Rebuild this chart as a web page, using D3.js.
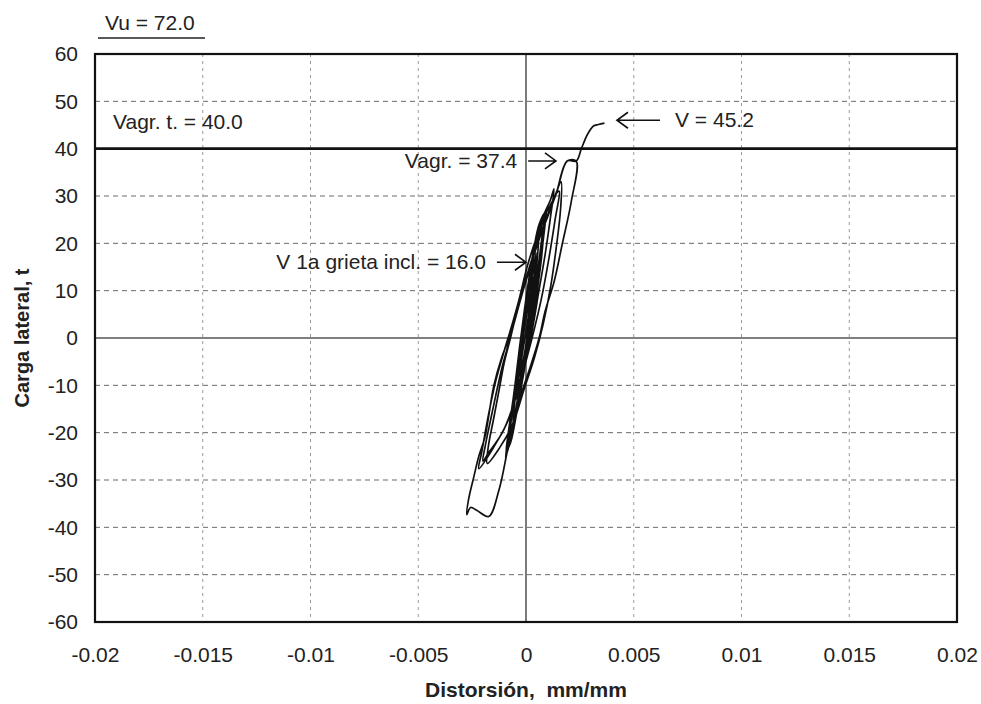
<!DOCTYPE html>
<html>
<head>
<meta charset="utf-8">
<script src="https://cdn.jsdelivr.net/npm/d3@7"></script>
<style>
  body { margin: 0; background: #fff; }
  svg { font-family: "Liberation Sans", Arial, sans-serif; }
</style>
</head>
<body>
<div id="chart"></div>
<script>
// Curva histerética: [distorsión (mm/mm), carga lateral (t)]
const histeresis = [
  [0, 0],
  // ciclos pequeños
  [0.00014, 5], [0.00023, 8], [0.00019, 4], [0.00005, 0], [-0.00014, -5], [-0.00028, -8],
  [-0.00019, -4], [-0.00005, 0], [0.00009, 4],
  [0.00028, 10], [0.00037, 13], [0.00028, 8], [0.00014, 2], [-0.00005, -4], [-0.00033, -10],
  [-0.00047, -13], [-0.00033, -8], [-0.00019, -2], [0, 4], [0.00019, 9],
  [0.00033, 14], [0.00047, 18], [0.00037, 12], [0.00023, 5], [0, -2], [-0.00028, -10],
  [-0.00061, -18], [-0.00051, -13], [-0.00033, -6], [-0.00014, 0], [0.00005, 7], [0.00023, 13],
  [0.00042, 19], [0.00061, 23], [0.00051, 16], [0.00033, 8], [0.00009, 0], [-0.00019, -8],
  [-0.00051, -16], [-0.00075, -21], [-0.00065, -16], [-0.00042, -9], [-0.00023, -2], [0, 6],
  [0.00019, 13], [0.00037, 19],
  [0.00061, 23], [0.00084, 26], [0.00065, 18], [0.00042, 10], [0.00019, 2], [-0.00009, -6],
  [-0.00042, -14], [-0.0007, -20], [-0.00089, -24], [-0.00075, -19], [-0.00051, -11], [-0.00028, -3],
  [-0.00005, 5], [0.00014, 12], [0.00037, 19], [0.00061, 24],
  [0.00089, 26.5], [0.0007, 18], [0.00047, 10], [0.00023, 2], [-0.00005, -6], [-0.00037, -14],
  [-0.00065, -20], [-0.00089, -24.5], [-0.00079, -20], [-0.00056, -12], [-0.00033, -4], [-0.00009, 4],
  [0.00009, 11], [0.00033, 18], [0.00065, 24], [0.00089, 26],
  [0.00094, 27], [0.00075, 19], [0.0005, 11], [0.00026, 3], [-0.00002, -5], [-0.00035, -13],
  [-0.00063, -19], [-0.00093, -25], [-0.00082, -21], [-0.0006, -13], [-0.00037, -5], [-0.00012, 3],
  [0.00007, 10], [0.0003, 17], [0.00062, 23], [0.00094, 27],
  [0.0009, 26], [0.00072, 17], [0.00049, 9], [0.00021, 1], [-0.0001, -7], [-0.0004, -15],
  [-0.00068, -21], [-0.00092, -24], [-0.00085, -21], [-0.00063, -14], [-0.0004, -7], [-0.00016, 1],
  [0.00004, 8], [0.00026, 15], [0.00058, 22], [0.0009, 26],
  [0.00097, 27.5], [0.00078, 20], [0.00054, 12], [0.0003, 4], [0.00001, -4], [-0.00031, -12],
  [-0.0006, -18.5], [-0.00095, -25.5], [-0.00086, -22], [-0.00066, -15], [-0.00044, -8], [-0.0002, 0],
  [0.00002, 7], [0.00022, 14], [0.00055, 21], [0.00092, 26.5],
  [0.00086, 25], [0.00068, 16], [0.00045, 8], [0.00017, 0], [-0.00013, -8], [-0.00044, -16],
  [-0.00071, -22], [-0.00088, -23.5], [-0.00078, -19], [-0.00054, -11], [-0.0003, -2], [-0.00007, 6],
  [0.00012, 12], [0.00036, 18], [0.00066, 24], [0.00092, 27],
  // ciclos mayores (ramas de la izquierda)
  [0.00112, 29], [0.0013, 31.5], [0.00115, 26], [0.0009, 18], [0.0006, 10], [0.0003, 2],
  [-0.0001, -6], [-0.0005, -13], [-0.0011, -20], [-0.0017, -24], [-0.002, -26],
  [-0.0019, -23], [-0.00163, -17], [-0.00135, -11], [-0.0011, -6], [-0.0008, -1], [-0.0005, 4],
  [-0.0002, 9], [0.0002, 15], [0.0006, 21], [0.001, 26],
  [0.0013, 29.5], [0.00163, 33], [0.0016, 27], [0.0014, 19], [0.00115, 11], [0.0008, 3],
  [0.0004, -4], [-0.0001, -11], [-0.0006, -18], [-0.0012, -23], [-0.0018, -26.5],
  [-0.00175, -23], [-0.0015, -17], [-0.00125, -11], [-0.001, -5], [-0.00072, 0], [-0.0004, 6],
  [-0.0001, 11], [0.0003, 17], [0.0007, 22], [0.001, 26],
  // ciclo a -27.6
  [0.00117, 28], [0.0014, 30.5], [0.00154, 31], [0.00135, 25], [0.00107, 17], [0.0007, 8],
  [0.00028, 0], [-0.00019, -8], [-0.00079, -17], [-0.00149, -23], [-0.00219, -27.6],
  [-0.00205, -24], [-0.00173, -16], [-0.0014, -9], [-0.00103, -3], [-0.0007, 2], [-0.00033, 8],
  [0.00005, 15], [0.00047, 21], [0.00089, 26],
  // ciclo hasta Vagr = 37.4
  [0.0014, 30.5], [0.00191, 37.4], [0.00233, 37.4], [0.0021, 28.8], [0.00168, 19.8], [0.00131, 12],
  [0.00089, 5.7], [0.00061, 0], [0.00014, -6.9], [-0.00033, -13.3], [-0.0007, -20], [-0.00089, -24.4],
  [-0.00126, -32.2], [-0.00173, -37.7], [-0.00229, -36.4], [-0.00257, -35.8], [-0.00275, -37.3],
  // rama final hasta V = 45.2
  [-0.00266, -34], [-0.00243, -29.5], [-0.00219, -25], [-0.00191, -21], [-0.00149, -10],
  [-0.00112, -4], [-0.00079, 0], [-0.00042, 6], [-0.00005, 12], [0.00033, 17], [0.0007, 22],
  [0.00098, 25.3], [0.0014, 30.5], [0.00191, 37.4], [0.00233, 37.4], [0.00257, 40], [0.00285, 43],
  [0.00313, 44.8], [0.00336, 45.1], [0.00364, 45.4]
];

const xTicks = [-0.02, -0.015, -0.01, -0.005, 0, 0.005, 0.01, 0.015, 0.02];
const xTickLabels = ["-0.02", "-0.015", "-0.01", "-0.005", "0", "0.005", "0.01", "0.015", "0.02"];
const yTicks = [-60, -50, -40, -30, -20, -10, 0, 10, 20, 30, 40, 50, 60];

const textoVu = "Vu = 72.0";
const vagrTotal = 40.0;
const textoVagrTotal = "Vagr. t. = 40.0";

// Anotaciones con flecha: punta y cola en coordenadas de datos
const anotaciones = [
  { texto: "Vagr. = 37.4", punta: [0.00139, 37.4], cola: [0.0001, 37.4] },
  { texto: "V = 45.2", punta: [0.00422, 46.0], cola: [0.00622, 46.0] },
  { texto: "V 1a grieta incl. = 16.0", punta: [0, 16.0], cola: [-0.00135, 16.0] }
];

// SVG
const svg = d3.select("#chart").append("svg")
  .attr("width", 981)
  .attr("height", 704);

const margin = { top: 54, right: 24, bottom: 82, left: 95 };
const width = +svg.attr("width") - margin.left - margin.right;
const height = +svg.attr("height") - margin.top - margin.bottom;

const chart = svg.append("g")
  .attr("transform", `translate(${margin.left},${margin.top})`);

const x = d3.scaleLinear().domain([-0.02, 0.02]).range([0, width]);
const y = d3.scaleLinear().domain([-60, 60]).range([height, 0]);

// Rejilla horizontal (guiones)
chart.selectAll("line.hgrid")
  .data(yTicks.filter(v => v !== 0 && v !== 60 && v !== -60 && v !== vagrTotal))
  .enter().append("line")
  .attr("class", "hgrid")
  .attr("x1", 0).attr("x2", width)
  .attr("y1", d => y(d)).attr("y2", d => y(d))
  .attr("stroke", "#6a6a6a")
  .attr("stroke-width", 1)
  .attr("stroke-dasharray", "5,4");

// Rejilla vertical (punteada)
chart.selectAll("line.vgrid")
  .data(xTicks.filter(v => v !== 0 && Math.abs(v) !== 0.02))
  .enter().append("line")
  .attr("class", "vgrid")
  .attr("x1", d => x(d)).attr("x2", d => x(d))
  .attr("y1", 0).attr("y2", height)
  .attr("stroke", "#9a9a9a")
  .attr("stroke-width", 1)
  .attr("stroke-dasharray", "3,4");

// Ejes cero
chart.append("line")
  .attr("x1", 0).attr("x2", width)
  .attr("y1", y(0)).attr("y2", y(0))
  .attr("stroke", "#555").attr("stroke-width", 1.3);
chart.append("line")
  .attr("x1", x(0)).attr("x2", x(0))
  .attr("y1", 0).attr("y2", height)
  .attr("stroke", "#333").attr("stroke-width", 1.3);

// Línea de Vagr. total = 40
chart.append("line")
  .attr("x1", 0).attr("x2", width)
  .attr("y1", y(vagrTotal)).attr("y2", y(vagrTotal))
  .attr("stroke", "#111").attr("stroke-width", 2.6);

// Marco
chart.append("rect")
  .attr("width", width).attr("height", height)
  .attr("fill", "none")
  .attr("stroke", "#111")
  .attr("stroke-width", 2.2);

// Curva
const line = d3.line()
  .x(d => x(d[0]))
  .y(d => y(d[1]))
  .curve(d3.curveCatmullRom.alpha(0.5));

chart.append("path")
  .datum(histeresis)
  .attr("fill", "none")
  .attr("stroke", "#111")
  .attr("stroke-width", 1.7)
  .attr("stroke-linejoin", "round")
  .attr("d", line);

// Ejes con etiquetas
const yAxis = chart.append("g")
  .call(d3.axisLeft(y).tickValues(yTicks).tickSize(0).tickPadding(17).tickFormat(d => String(d)));
yAxis.select(".domain").remove();
yAxis.selectAll("text")
  .style("font-size", "21px")
  .style("font-family", "Liberation Sans, Arial, sans-serif")
  .attr("fill", "#222");

const xAxis = chart.append("g")
  .attr("transform", `translate(0,${height})`)
  .call(d3.axisBottom(x).tickValues(xTicks).tickSize(0).tickPadding(25)
    .tickFormat((d, i) => xTickLabels[i]));
xAxis.select(".domain").remove();
xAxis.selectAll("text")
  .style("font-size", "21px")
  .style("font-family", "Liberation Sans, Arial, sans-serif")
  .attr("fill", "#222");

// Anotaciones
anotaciones.forEach(a => {
  const px = x(a.punta[0]), py = y(a.punta[1]);
  const cx = x(a.cola[0]), cy = y(a.cola[1]);
  const dir = px > cx ? 1 : -1;
  chart.append("path")
    .attr("d", `M${cx},${cy}L${px},${py}M${px - dir * 11},${py - 8}L${px},${py}L${px - dir * 11},${py + 8}`)
    .attr("fill", "none")
    .attr("stroke", "#111")
    .attr("stroke-width", 1.6);
  chart.append("text")
    .attr("x", dir > 0 ? cx - 11 : cx + 15)
    .attr("y", cy + 7)
    .attr("text-anchor", dir > 0 ? "end" : "start")
    .style("font-size", "21px")
    .attr("fill", "#222")
    .text(a.texto);
});

chart.append("text")
  .attr("x", x(-0.02) + 18)
  .attr("y", y(vagrTotal) - 20)
  .style("font-size", "21px")
  .attr("fill", "#222")
  .text(textoVagrTotal);

// Vu arriba del marco
svg.append("text")
  .attr("x", 105)
  .attr("y", 30)
  .style("font-size", "21px")
  .attr("fill", "#222")
  .text(textoVu);
svg.append("line")
  .attr("x1", 98).attr("x2", 205)
  .attr("y1", 38).attr("y2", 38)
  .attr("stroke", "#222").attr("stroke-width", 1.6);

// Títulos de ejes
svg.append("text")
  .attr("x", margin.left + x(0))
  .attr("y", 697)
  .attr("text-anchor", "middle")
  .style("font-size", "21px")
  .style("font-weight", "bold")
  .attr("fill", "#222")
  .attr("xml:space", "preserve")
  .style("white-space", "pre")
  .text("Distorsión,  mm/mm");

svg.append("text")
  .attr("transform", "rotate(-90)")
  .attr("x", -(margin.top + y(0)))
  .attr("y", 29)
  .attr("text-anchor", "middle")
  .style("font-size", "20px")
  .style("font-weight", "bold")
  .attr("fill", "#222")
  .text("Carga lateral, t");
</script>
</body>
</html>
